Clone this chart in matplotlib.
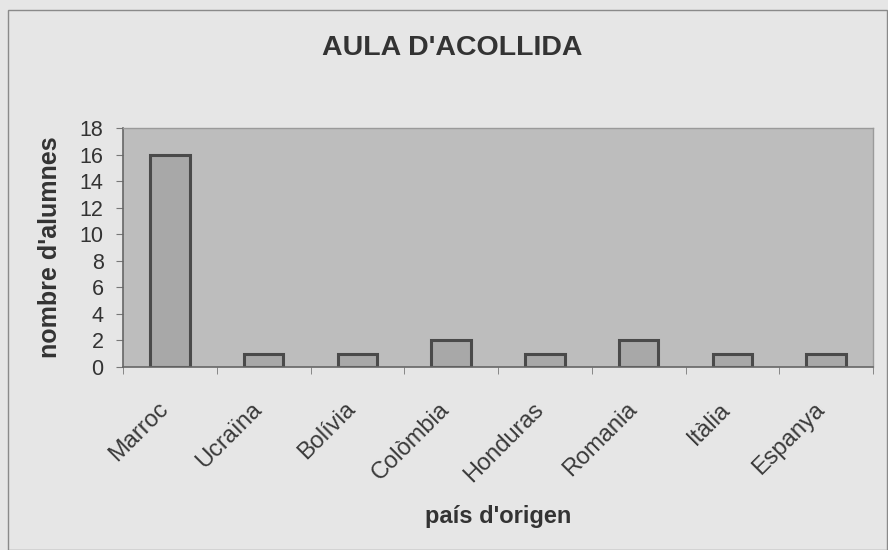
import matplotlib
matplotlib.use("Agg")
import matplotlib.pyplot as plt
import matplotlib.transforms as mtransforms
from matplotlib.patches import Rectangle
import numpy as np

categories = ["Marroc", "Ucraïna", "Bolívia", "Colòmbia", "Honduras", "Romania", "Itàlia", "Espanya"]
values = [16, 1, 1, 2, 1, 2, 1, 1]
yticks = [0, 2, 4, 6, 8, 10, 12, 14, 16, 18]

plt.rcParams['font.family'] = ['Liberation Sans', 'DejaVu Sans']

fig = plt.figure(figsize=(8.88, 5.5), dpi=100)
fig.patch.set_facecolor('#e6e6e6')
fig.patches.append(Rectangle((8/888, 0.0), 879/888, 1 - 10/550, transform=fig.transFigure,
                             fill=False, edgecolor='#8a8a8a', linewidth=1.0))

ax = fig.add_axes([123/888, 1 - 367/550, 750/888, 239/550])
ax.set_facecolor('#bdbdbd')

x = np.arange(len(categories))
ax.bar(x, values, width=0.42, color='#a8a8a8', edgecolor='#4a4a4a', linewidth=2.2)

ax.set_xlim(-0.5, len(categories) - 0.5)
ax.set_ylim(0, 18)
ax.set_yticks(yticks)
ax.set_yticklabels([str(v) for v in yticks], fontsize=15.5, color='#333333')
ax.set_xticks(x)
ax.set_xticklabels(categories, rotation=45, ha='right', va='center', rotation_mode='anchor',
                   fontsize=17, color='#3a3a3a')
ax.tick_params(axis='x', length=0, pad=28)
offset = mtransforms.ScaledTranslation(-5/100, 0, fig.dpi_scale_trans)
for lab in ax.get_xticklabels():
    lab.set_transform(lab.get_transform() + offset)
ax.set_xticks(np.arange(-0.5, len(categories), 1), minor=True)
ax.tick_params(axis='x', which='minor', length=5, color='#777777')
ax.tick_params(axis='y', length=5, color='#777777', pad=9)

for s in ['top', 'right']:
    ax.spines[s].set_color('#9a9a9a')
    ax.spines[s].set_linewidth(1)
for s in ['left', 'bottom']:
    ax.spines[s].set_color('#666666')
    ax.spines[s].set_linewidth(1.2)

ax.set_ylabel("nombre d'alumnes", fontsize=18, fontweight='bold', color='#333333', va='center')
ax.yaxis.set_label_coords((50 - 123) / 750, 0.5)
ax.set_xlabel("país d'origen", fontsize=17, fontweight='bold', color='#333333', va='center')
ax.xaxis.set_label_coords(0.5, (367 - 517) / 239)
fig.text(0.509, 1 - 48/550, "AULA D'ACOLLIDA", ha='center', va='center',
         fontsize=20.5, fontweight='bold', color='#333333')

fig.savefig("out.png", dpi=100, facecolor=fig.get_facecolor())
